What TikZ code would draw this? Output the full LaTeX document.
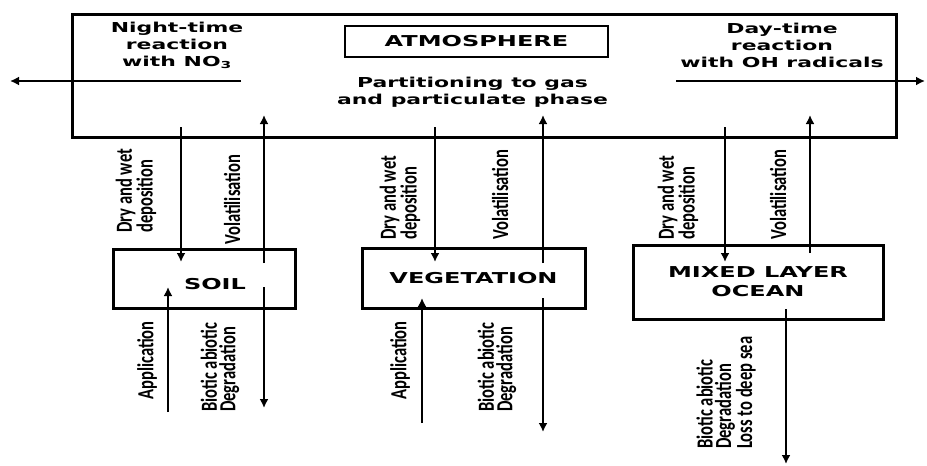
\documentclass[tikz,border=0pt]{standalone}
\usepackage{fontspec}
\usepackage{tikz}
\usetikzlibrary{arrows.meta,positioning}
\newfontfamily\hfont[FakeStretch=1.6]{DejaVu Sans}
\newfontfamily\vfont[FakeStretch=0.72]{Carlito}

\begin{document}
\begin{tikzpicture}[x=1pt,y=-1pt,>={Latex[length=9pt,width=9pt]},
  box/.style={draw,line width=3pt,inner sep=0},
  htxt/.style={font=\hfont\bfseries\fontsize{13.7}{17}\selectfont,align=center,inner sep=0},
  blab/.style={font=\hfont\bfseries\fontsize{15}{19}\selectfont,align=center,inner sep=0},
  vtxt/.style={rotate=90,anchor=west,align=left,inner sep=0,font=\vfont\bfseries\fontsize{23}{18.5}\selectfont},
  flow/.style={->,line width=1.8pt},
  bigflow/.style={->,line width=2.8pt}]
\useasboundingbox (0,0) rectangle (927,466);

% compartments
\node[box,minimum width=824,minimum height=123] (atm) at (484,75.5) {};
\node[box,line width=2pt,minimum width=263,minimum height=31,blab] (atmlab) at (476.5,41.5) {ATMOSPHERE};
\node[box,minimum width=182,minimum height=59] (soil) at (204,278.5) {};
\node[blab] (soillab) at (215,284) {SOIL};
\node[box,minimum width=223,minimum height=60,blab] (veg) at (473.5,278) {VEGETATION};
\node[box,minimum width=250,minimum height=74,blab] (ocean) at (758,282) {MIXED LAYER\\OCEAN};

% texts in the atmosphere
\node[htxt] (night) at (177,45) {Night-time\\reaction\\with NO\textsubscript{3}};
\node[htxt] (day) at (782,45) {Day-time\\reaction\\with OH radicals};
\node[htxt] (part) at (472.5,92) {Partitioning to gas\\and particulate phase};

\coordinate (nightin) at (241,81);
\coordinate (nightout) at (10,81);
\coordinate (dayin) at (676,81);
\coordinate (dayout) at (925,81);
\draw[flow] (nightin) -- (nightout);
\draw[flow] (dayin) -- (dayout);

% soil
\coordinate (sdep0) at (181,127);  \coordinate (sdep1) at (181,262);
\coordinate (svol0) at (264,263);  \coordinate (svol1) at (264,115);
\coordinate (sapp0) at (168,412);  \coordinate (sapp1) at (168,287);
\coordinate (sdeg0) at (264,287);  \coordinate (sdeg1) at (264,408);
\draw[flow] (sdep0) -- (sdep1);
\draw[bigflow] (svol0) -- (svol1);
\draw[flow] (sapp0) -- (sapp1);
\draw[flow] (sdeg0) -- (sdeg1);
\node[vtxt] (sdeplab) at (136,233) {Dry and wet\\deposition};
\node[vtxt] (svollab) at (232,245) {Volatilisation};
\node[vtxt] (sapplab) at (147,400) {Application};
\node[vtxt] (sdeglab) at (220,412) {Biotic abiotic\\Degradation};

% vegetation
\coordinate (vdep0) at (435,127);  \coordinate (vdep1) at (435,262);
\coordinate (vvol0) at (543,263);  \coordinate (vvol1) at (543,115);
\coordinate (vapp0) at (422,423);  \coordinate (vapp1) at (422,298);
\coordinate (vdeg0) at (543,298);  \coordinate (vdeg1) at (543,432);
\draw[flow] (vdep0) -- (vdep1);
\draw[bigflow] (vvol0) -- (vvol1);
\draw[bigflow] (vapp0) -- (vapp1);
\draw[flow] (vdeg0) -- (vdeg1);
\node[vtxt] (vdeplab) at (400,240) {Dry and wet\\deposition};
\node[vtxt] (vvollab) at (500,240) {Volatilisation};
\node[vtxt] (vapplab) at (400,400) {Application};
\node[vtxt] (vdeglab) at (497,412) {Biotic abiotic\\Degradation};

% ocean
\coordinate (odep0) at (725,127);  \coordinate (odep1) at (725,262);
\coordinate (ovol0) at (810,253);  \coordinate (ovol1) at (810,115);
\coordinate (oloss0) at (786,309); \coordinate (oloss1) at (786,464);
\draw[flow] (odep0) -- (odep1);
\draw[bigflow] (ovol0) -- (ovol1);
\draw[flow] (oloss0) -- (oloss1);
\node[vtxt] (odeplab) at (678,240) {Dry and wet\\deposition};
\node[vtxt] (ovollab) at (778,240) {Volatilisation};
\node[vtxt] (olosslab) at (726,449) {Biotic abiotic\\Degradation\\Loss to deep sea};
\end{tikzpicture}
\end{document}
